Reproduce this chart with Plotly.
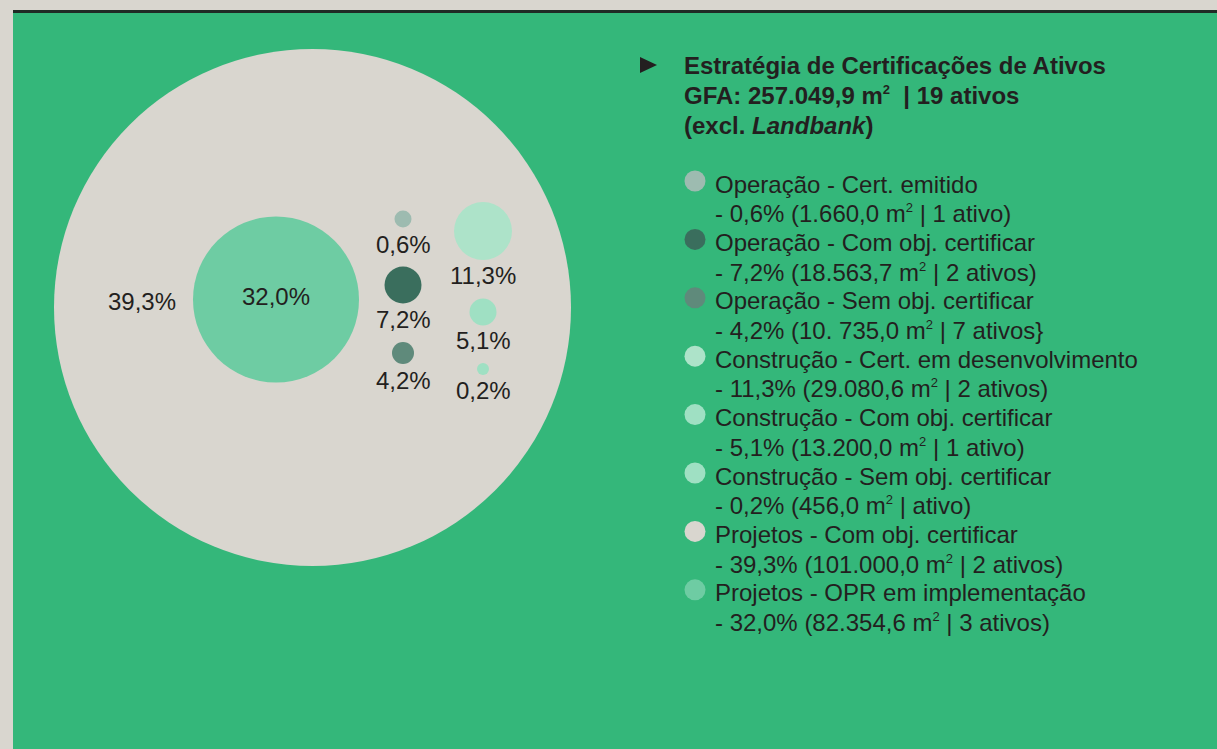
import plotly.graph_objects as go

# Certification strategy of the portfolio (GFA 257.049,9 m², 19 assets)
categories = [
    "Operação - Cert. emitido",
    "Operação - Com obj. certificar",
    "Operação - Sem obj. certificar",
    "Construção - Cert. em desenvolvimento",
    "Construção - Com obj. certificar",
    "Construção - Sem obj. certificar",
    "Projetos - Com obj. certificar",
    "Projetos - OPR em implementação",
]
share_pct = [0.6, 7.2, 4.2, 11.3, 5.1, 0.2, 39.3, 32.0]
area_m2 = ["1.660,0", "18.563,7", "10. 735,0", "29.080,6", "13.200,0", "456,0", "101.000,0", "82.354,6"]
assets = ["1 ativo)", "2 ativos)", "7 ativos}", "2 ativos)", "1 ativo)", "ativo)", "2 ativos)", "3 ativos)"]

# --- styling / placement (pixel canvas) ---
W, H = 1217, 749
BEIGE = "#d9d6cf"
GREEN = "#34b77a"
INK = "#231f20"
FONT = "Liberation Sans, Arial, sans-serif"
SUP = "<sup><span style='font-size:13px'>2</span></sup>"
colors = ["#9dbbb0", "#3a6e5d", "#5f8a7b", "#ade3c9", "#9fe0c3", "#9fe0c3", BEIGE, "#6ecca3"]

title_lines = [
    "<b>Estratégia de Certificações de Ativos</b>",
    f"<b>GFA: 257.049,9 m{SUP}  | 19 ativos</b>",
    "<b>(excl. <i>Landbank</i>)</b>",
]

# bubble centres / diameters, drawn largest first
bubble_x = [403, 403, 403, 483, 483, 483, 312.5, 276]
bubble_y = [219, 285, 353, 231, 312, 369, 307.5, 299.5]
bubble_d = [17, 37, 22, 58, 27, 12, 517, 166]
label_x = [403, 403, 403, 483, 483, 483, 142, 276]
label_y = [244, 319, 380, 275, 340, 390, 301, 296]

order = sorted(range(len(categories)), key=lambda i: -bubble_d[i])


def pct_text(v):
    return f"{v:.1f}".replace(".", ",") + "%"


fig = go.Figure()

fig.add_trace(go.Scatter(
    x=[bubble_x[i] for i in order],
    y=[bubble_y[i] for i in order],
    mode="markers",
    marker=dict(size=[bubble_d[i] for i in order],
                color=[colors[i] for i in order],
                line=dict(width=0), opacity=1),
    hovertext=[categories[i] for i in order],
    hoverinfo="text",
    showlegend=False,
))

# legend block
leg_x_dot, leg_x_text = 695, 713
leg_y0, leg_step, leg_sub = 184, 58.4, 29.6
leg_y = [leg_y0 + leg_step * i for i in range(len(categories))]

fig.add_trace(go.Scatter(
    x=[leg_x_dot] * len(categories),
    y=[y - 3 for y in leg_y],
    mode="markers",
    marker=dict(size=21, color=colors, line=dict(width=0)),
    hoverinfo="skip",
    showlegend=False,
))

annotations = []
for i in range(len(categories)):
    annotations.append(dict(
        x=label_x[i], y=label_y[i], text=pct_text(share_pct[i]),
        xanchor="center", yanchor="middle", showarrow=False,
        font=dict(family=FONT, size=24, color=INK),
    ))
    annotations.append(dict(
        x=leg_x_text, y=leg_y[i], text=categories[i],
        xanchor="left", yanchor="middle", showarrow=False,
        font=dict(family=FONT, size=24, color=INK),
    ))
    annotations.append(dict(
        x=leg_x_text, y=leg_y[i] + leg_sub,
        text=f"- {pct_text(share_pct[i])} ({area_m2[i]} m{SUP} | {assets[i]}",
        xanchor="left", yanchor="middle", showarrow=False,
        font=dict(family=FONT, size=24, color=INK),
    ))

for k, line in enumerate(title_lines):
    annotations.append(dict(
        x=682, y=65 + 30 * k, text=line,
        xanchor="left", yanchor="middle", showarrow=False,
        font=dict(family=FONT, size=24, color=INK),
    ))

shapes = [
    dict(type="rect", xref="x", yref="y", x0=13, x1=W, y0=13, y1=H,
         fillcolor=GREEN, line=dict(width=0), layer="below"),
    dict(type="rect", xref="x", yref="y", x0=13, x1=W, y0=10, y1=13,
         fillcolor="#1f2b25", line=dict(width=0), layer="below"),
    # bullet triangle in front of the heading
    dict(type="path", xref="x", yref="y", path="M 640 57 L 657 65 L 640 73 Z",
         fillcolor=INK, line=dict(width=0)),
]

fig.update_layout(
    width=W, height=H,
    margin=dict(l=0, r=0, t=0, b=0),
    paper_bgcolor=BEIGE, plot_bgcolor="rgba(0,0,0,0)",
    xaxis=dict(range=[0, W], visible=False, fixedrange=True),
    yaxis=dict(range=[H, 0], visible=False, fixedrange=True),
    shapes=shapes,
    annotations=annotations,
    showlegend=False,
)

fig.write_html("out.html", config={"displayModeBar": False})
